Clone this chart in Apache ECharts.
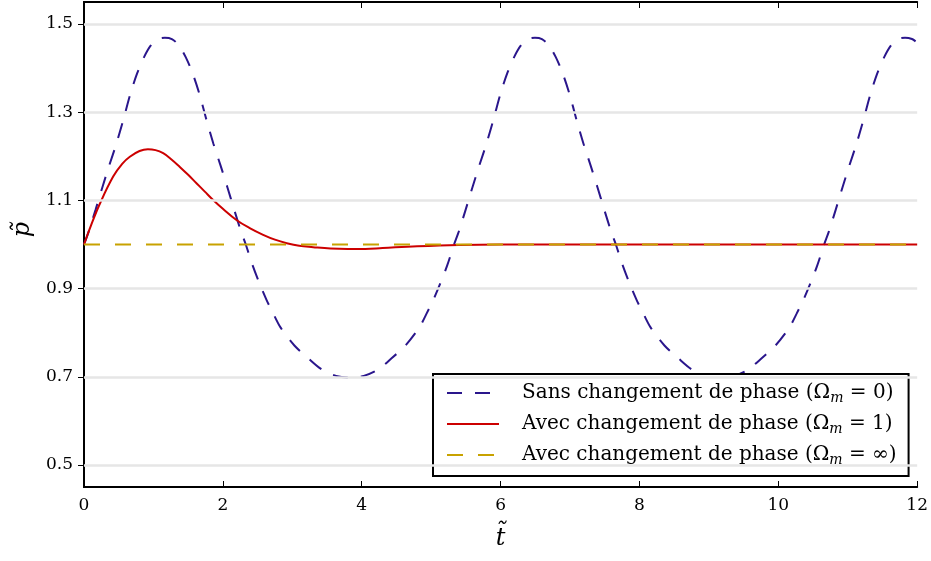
<!DOCTYPE html>
<html>
<head>
<meta charset="utf-8">
<script src="https://cdn.jsdelivr.net/npm/echarts@6/dist/echarts.min.js"></script>
<style>html,body{margin:0;padding:0;background:#fff;}#c{width:931px;height:561px;}</style>
</head>
<body>
<div id="c"></div>
<script>
// Sans changement de phase (Omega_m = 0)
const tSans = [0.000,0.065,0.165,0.265,0.365,0.465,0.565,0.665,0.765,0.865,0.965,1.065,1.165,1.265,1.365,1.465,1.565,1.665,1.765,1.865,1.965,2.065,2.165,2.265,2.330,
  2.43,2.53,2.63,2.73,2.83,3.03,3.23,3.43,3.63,3.83,4.03,4.23,4.43,4.63,4.83,4.93,5.03,5.13,5.23,5.33,
  5.395,5.495,5.595,5.695,5.795,5.895,5.995,6.095,6.195,6.295,6.395,6.495,6.595,6.695,6.795,6.895,6.995,7.095,7.195,7.295,7.395,7.495,7.595,7.66,
  7.76,7.86,7.96,8.06,8.16,8.36,8.56,8.76,8.96,9.16,9.36,9.56,9.76,9.96,10.16,10.26,10.36,10.46,10.56,10.66,
  10.725,10.825,10.925,11.025,11.125,11.225,11.325,11.425,11.525,11.625,11.725,11.825,11.925,12.0];
const pSans = [1.000,1.028,1.078,1.130,1.180,1.228,1.282,1.340,1.388,1.425,1.452,1.466,1.469,1.466,1.452,1.425,1.388,1.340,1.282,1.228,1.180,1.130,1.078,1.028,1.000,
  0.952,0.911,0.874,0.842,0.812,0.771,0.742,0.716,0.702,0.698,0.702,0.716,0.742,0.771,0.812,0.842,0.874,0.911,0.952,1.000,
  1.028,1.078,1.130,1.180,1.228,1.282,1.340,1.388,1.425,1.452,1.466,1.469,1.466,1.452,1.425,1.388,1.340,1.282,1.228,1.180,1.130,1.078,1.028,1.000,
  0.952,0.911,0.874,0.842,0.812,0.771,0.742,0.716,0.702,0.698,0.702,0.716,0.742,0.771,0.812,0.842,0.874,0.911,0.952,1.000,
  1.028,1.078,1.130,1.180,1.228,1.282,1.340,1.388,1.425,1.452,1.466,1.469,1.466,1.458];

// Avec changement de phase (Omega_m = 1)
const tAvec1 = [0,0.1,0.23,0.42,0.55,0.66,0.8,0.92,1.03,1.14,1.26,1.38,1.5,1.62,1.74,1.86,2.0,2.2,2.4,2.58,2.75,2.92,3.1,3.3,3.55,3.8,4.05,4.3,4.8,5.4,6.0,7,8,9,10,11,12];
const pAvec1 = [1.000,1.043,1.093,1.154,1.183,1.199,1.212,1.216,1.214,1.207,1.193,1.176,1.158,1.139,1.120,1.101,1.081,1.055,1.036,1.022,1.011,1.003,0.997,0.994,0.991,0.990,0.990,0.992,0.996,0.999,1.000,1.000,1.000,1.000,1.000,1.000,1.000];

// Avec changement de phase (Omega_m = inf)
const tAvecInf = [0, 12];
const pAvecInf = [1.0, 1.0];

const yTicks = [0.5, 0.7, 0.9, 1.1, 1.3, 1.5];
const xTicks = [0, 2, 4, 6, 8, 10, 12];

const names = ['Sans changement de phase (Ωm = 0)', 'Avec changement de phase (Ωm = 1)', 'Avec changement de phase (Ωm = ∞)'];
const colors = ['#2a168c', '#cc0000', '#c8a200'];

const zip = (a, b) => a.map((v, i) => [v, b[i]]);
const FONT = 'DejaVu Serif';

const chart = echarts.init(document.getElementById('c'), null, {renderer: 'canvas'});
const axisLineStyle = {show: true, lineStyle: {color: '#000', width: 2}};
const option = {
  backgroundColor: '#fff',
  animation: false,
  grid: {left: 84, right: 13, top: 2, bottom: 74, containLabel: false},
  xAxis: [{
    type: 'value', min: 0, max: 12, interval: 2, position: 'bottom',
    axisLine: axisLineStyle,
    axisTick: {show: true, inside: true, length: 6, lineStyle: {color: '#000', width: 1}},
    axisLabel: {show: true, margin: 10, color: '#000', fontFamily: FONT, fontSize: 17},
    splitLine: {show: false},
    name: 't\u0303', nameLocation: 'middle', nameGap: 40,
    nameTextStyle: {fontFamily: FONT, fontStyle: 'italic', fontSize: 24, color: '#000'}
  }, {
    type: 'value', min: 0, max: 12, interval: 2, position: 'top',
    axisLine: axisLineStyle,
    axisTick: {show: true, inside: true, length: 6, lineStyle: {color: '#000', width: 1}},
    axisLabel: {show: false}, splitLine: {show: false}
  }],
  yAxis: [{
    type: 'value', min: 0.45, max: 1.55, position: 'left',
    axisLine: axisLineStyle,
    axisTick: {show: true, inside: true, length: 6, customValues: yTicks, lineStyle: {color: '#000', width: 1}},
    axisLabel: {show: true, customValues: yTicks, margin: 11, color: '#000', fontFamily: FONT, fontSize: 17,
      formatter: v => v.toFixed(1)},
    splitLine: {show: false},
    name: 'p\u0303', nameLocation: 'middle', nameGap: 46, nameRotate: 90,
    nameTextStyle: {fontFamily: FONT, fontStyle: 'italic', fontSize: 24, color: '#000', padding: [0, 0, 0, 30]}
  }, {
    type: 'value', min: 0.45, max: 1.55, position: 'right',
    axisLine: axisLineStyle,
    axisTick: {show: true, inside: true, length: 6, customValues: yTicks, lineStyle: {color: '#000', width: 1}},
    axisLabel: {show: false}, splitLine: {show: false}
  }],
  legend: {
    data: names,
    orient: 'vertical', left: 433, top: 374,
    backgroundColor: '#fff', borderColor: '#000', borderWidth: 2, borderRadius: 0,
    padding: [7, 12, 9, 13],
    itemWidth: 52, itemHeight: 14, itemGap: 7,
    itemStyle: {opacity: 0, borderWidth: 0},
    formatter: n => n.replace('Ωm', 'Ω{s|m}'),
    textStyle: {
      fontFamily: FONT, fontSize: 20, color: '#000', padding: [0, 0, 0, 18], lineHeight: 24,
      rich: {s: {fontFamily: FONT, fontStyle: 'italic', fontSize: 14, color: '#000', verticalAlign: 'bottom', lineHeight: 24, padding: [7, 0, 0, 0]}}
    }
  },
  series: [
    {
      name: 'grid', type: 'line', data: [[0, 1]], symbol: 'none', lineStyle: {opacity: 0}, silent: true, z: 1,
      xAxisIndex: 0, yAxisIndex: 0,
      markLine: {silent: true, symbol: ['none', 'none'], label: {show: false},
        lineStyle: {color: '#e6e6e6', type: 'solid', width: 2.5},
        data: yTicks.map(v => ({yAxis: v}))}
    },
    {
      name: names[0], type: 'line', data: zip(tSans, pSans), symbol: 'none', smooth: 0.3,
      color: colors[0], lineStyle: {color: colors[0], width: 2, type: [15, 13]}, z: 3
    },
    {
      name: names[1], type: 'line', data: zip(tAvec1, pAvec1), symbol: 'none', smooth: 0.4,
      color: colors[1], lineStyle: {color: colors[1], width: 2, type: 'solid'}, z: 4
    },
    {
      name: names[2], type: 'line', data: zip(tAvecInf, pAvecInf), symbol: 'none',
      color: colors[2], lineStyle: {color: colors[2], width: 2, type: [16, 15]}, z: 5
    }
  ]
};
chart.setOption(option);
</script>
</body>
</html>
